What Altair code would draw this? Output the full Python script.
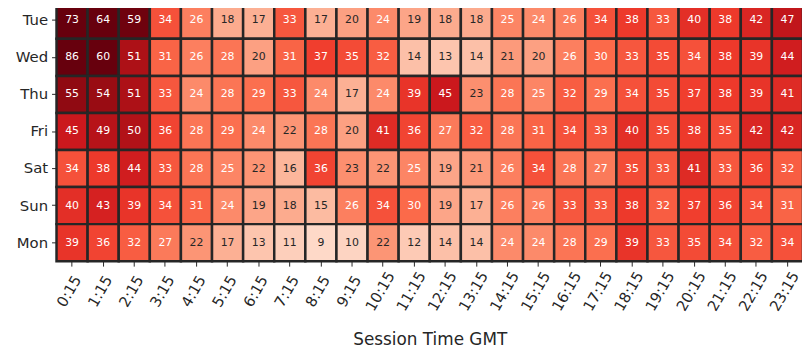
import altair as alt
import pandas as pd

days = ["Tue", "Wed", "Thu", "Fri", "Sat", "Sun", "Mon"]
times = [f"{h}:15" for h in range(24)]

tue = [73, 64, 59, 34, 26, 18, 17, 33, 17, 20, 24, 19, 18, 18, 25, 24, 26, 34, 38, 33, 40, 38, 42, 47]
wed = [86, 60, 51, 31, 26, 28, 20, 31, 37, 35, 32, 14, 13, 14, 21, 20, 26, 30, 33, 35, 34, 38, 39, 44]
thu = [55, 54, 51, 33, 24, 28, 29, 33, 24, 17, 24, 39, 45, 23, 28, 25, 32, 29, 34, 35, 37, 38, 39, 41]
fri = [45, 49, 50, 36, 28, 29, 24, 22, 28, 20, 41, 36, 27, 32, 28, 31, 34, 33, 40, 35, 38, 35, 42, 42]
sat = [34, 38, 44, 33, 28, 25, 22, 16, 36, 23, 22, 25, 19, 21, 26, 34, 28, 27, 35, 33, 41, 33, 36, 32]
sun = [40, 43, 39, 34, 31, 24, 19, 18, 15, 26, 34, 30, 19, 17, 26, 26, 33, 33, 38, 32, 37, 36, 34, 31]
mon = [39, 36, 32, 27, 22, 17, 13, 11, 9, 10, 22, 12, 14, 14, 24, 24, 28, 29, 39, 33, 35, 34, 32, 34]

rows = [tue, wed, thu, fri, sat, sun, mon]
records = []
for d, vals in zip(days, rows):
    for t, v in zip(times, vals):
        records.append({"day": d, "time": t, "value": v})
df = pd.DataFrame(records)

reds = ["#fff5f0", "#fee0d2", "#fcbba1", "#fc9272", "#fb6a4a",
        "#ef3b2c", "#cb181d", "#a50f15", "#67000d"]

FONT = "DejaVu Sans"

base = alt.Chart(df).encode(
    x=alt.X("time:O", sort=times,
            scale=alt.Scale(paddingInner=0, paddingOuter=0),
            axis=alt.Axis(title="Session Time GMT", labelAngle=-60,
                          labelAlign="center", labelBaseline="middle",
                          labelFontSize=15, titleFontSize=17,
                          titleFontWeight="normal", labelFont=FONT,
                          titleFont=FONT, labelColor="#262626",
                          titleColor="#262626", domain=False,
                          tickColor="#262626", tickSize=5, labelPadding=25,
                          labelOffset=-3,
                          titleY=79, titleBaseline="middle")),
    y=alt.Y("day:O", sort=days,
            scale=alt.Scale(paddingInner=0, paddingOuter=0),
            axis=alt.Axis(title=None, labelFontSize=15, labelFont=FONT,
                          labelColor="#262626", domain=False,
                          tickColor="#262626", tickSize=5, labelPadding=4)),
)

rects = base.mark_rect(stroke="#262626", strokeWidth=2.5).encode(
    color=alt.Color("value:Q",
                    scale=alt.Scale(domain=[0, 60], range=reds,
                                    interpolate="rgb", clamp=True),
                    legend=None)
)

texts = base.mark_text(fontSize=11, font=FONT).encode(
    text="value:Q",
    color=alt.condition(alt.datum.value >= 24, alt.value("#ffffff"),
                        alt.value("#262626")),
)

chart = (rects + texts).properties(
    width=754, height=262,
    autosize=alt.AutoSizeParams(type="none"),
    padding={"top": -8, "left": 49, "right": -1, "bottom": 88},
).configure_view(stroke=None)

chart.save("out.html", embed_options={"renderer": "svg", "actions": False})
